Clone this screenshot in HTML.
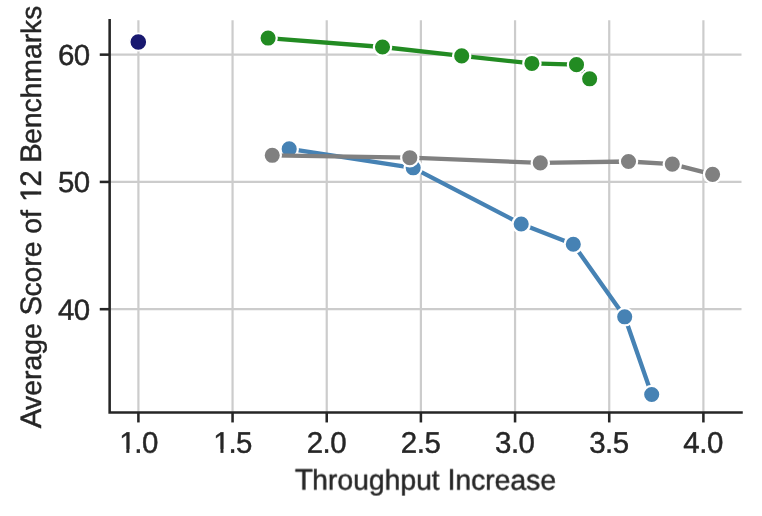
<!DOCTYPE html>
<html><head><meta charset="utf-8"><title>Chart</title>
<style>
html,body{margin:0;padding:0;background:#fff;}
body{width:762px;height:516px;overflow:hidden;}
svg{display:block;}
text{font-family:"Liberation Sans",sans-serif;text-rendering:geometricPrecision;fill:#262626;stroke:#262626;stroke-width:0.45px;stroke-linejoin:round;}
</style></head>
<body>
<svg width="762" height="516" viewBox="0 0 762 516">
<rect x="0" y="0" width="762" height="516" fill="#ffffff"/>
<g stroke="#cccccc" stroke-width="2.2" fill="none">
<line x1="138.40" y1="20.2" x2="138.40" y2="412.55"/>
<line x1="232.56" y1="20.2" x2="232.56" y2="412.55"/>
<line x1="326.73" y1="20.2" x2="326.73" y2="412.55"/>
<line x1="420.89" y1="20.2" x2="420.89" y2="412.55"/>
<line x1="515.06" y1="20.2" x2="515.06" y2="412.55"/>
<line x1="609.23" y1="20.2" x2="609.23" y2="412.55"/>
<line x1="703.39" y1="20.2" x2="703.39" y2="412.55"/>
<line x1="109.65" y1="309.20" x2="741.5" y2="309.20"/>
<line x1="109.65" y1="181.92" x2="741.5" y2="181.92"/>
<line x1="109.65" y1="54.65" x2="741.5" y2="54.65"/>
</g>
<g>
<polyline fill="none" stroke="#4682b4" stroke-width="4.3" stroke-linejoin="round" stroke-linecap="round" points="289.20,148.90 413.20,167.80 521.20,224.00 573.30,244.25 624.70,316.80 651.70,394.50"/>
<circle cx="289.20" cy="148.90" r="8.65" fill="#4682b4" stroke="#ffffff" stroke-width="2.2"/>
<circle cx="413.20" cy="167.80" r="8.65" fill="#4682b4" stroke="#ffffff" stroke-width="2.2"/>
<circle cx="521.20" cy="224.00" r="8.65" fill="#4682b4" stroke="#ffffff" stroke-width="2.2"/>
<circle cx="573.30" cy="244.25" r="8.65" fill="#4682b4" stroke="#ffffff" stroke-width="2.2"/>
<circle cx="624.70" cy="316.80" r="8.65" fill="#4682b4" stroke="#ffffff" stroke-width="2.2"/>
<circle cx="651.70" cy="394.50" r="8.65" fill="#4682b4" stroke="#ffffff" stroke-width="2.2"/>
</g>
<g>
<polyline fill="none" stroke="#808080" stroke-width="4.3" stroke-linejoin="round" stroke-linecap="round" points="272.25,155.30 409.80,157.70 540.30,162.90 628.50,161.50 672.30,164.10 712.60,174.35"/>
<circle cx="272.25" cy="155.30" r="8.65" fill="#808080" stroke="#ffffff" stroke-width="2.2"/>
<circle cx="409.80" cy="157.70" r="8.65" fill="#808080" stroke="#ffffff" stroke-width="2.2"/>
<circle cx="540.30" cy="162.90" r="8.65" fill="#808080" stroke="#ffffff" stroke-width="2.2"/>
<circle cx="628.50" cy="161.50" r="8.65" fill="#808080" stroke="#ffffff" stroke-width="2.2"/>
<circle cx="672.30" cy="164.10" r="8.65" fill="#808080" stroke="#ffffff" stroke-width="2.2"/>
<circle cx="712.60" cy="174.35" r="8.65" fill="#808080" stroke="#ffffff" stroke-width="2.2"/>
</g>
<g>
<polyline fill="none" stroke="#228b22" stroke-width="4.3" stroke-linejoin="round" stroke-linecap="round" points="268.10,38.05 382.50,47.00 461.70,55.90 531.90,63.45 576.50,64.65 589.65,78.80"/>
<circle cx="268.10" cy="38.05" r="8.65" fill="#228b22" stroke="#ffffff" stroke-width="2.2"/>
<circle cx="382.50" cy="47.00" r="8.65" fill="#228b22" stroke="#ffffff" stroke-width="2.2"/>
<circle cx="461.70" cy="55.90" r="8.65" fill="#228b22" stroke="#ffffff" stroke-width="2.2"/>
<circle cx="531.90" cy="63.45" r="8.65" fill="#228b22" stroke="#ffffff" stroke-width="2.2"/>
<circle cx="576.50" cy="64.65" r="8.65" fill="#228b22" stroke="#ffffff" stroke-width="2.2"/>
<circle cx="589.65" cy="78.80" r="8.65" fill="#228b22" stroke="#ffffff" stroke-width="2.2"/>
</g>
<g>
<circle cx="138.30" cy="41.95" r="8.65" fill="#191970" stroke="#ffffff" stroke-width="1.7"/>
</g>
<g stroke="#262626" stroke-width="2.55" fill="none" stroke-linecap="square">
<polyline stroke-linejoin="miter" points="109.65,20.2 109.65,412.55 741.5,412.55"/>
</g>
<g stroke="#262626" stroke-width="2.55" fill="none">
<line x1="138.40" y1="412.55" x2="138.40" y2="422.45"/>
<line x1="232.56" y1="412.55" x2="232.56" y2="422.45"/>
<line x1="326.73" y1="412.55" x2="326.73" y2="422.45"/>
<line x1="420.89" y1="412.55" x2="420.89" y2="422.45"/>
<line x1="515.06" y1="412.55" x2="515.06" y2="422.45"/>
<line x1="609.23" y1="412.55" x2="609.23" y2="422.45"/>
<line x1="703.39" y1="412.55" x2="703.39" y2="422.45"/>
<line x1="99.75" y1="309.20" x2="109.65" y2="309.20"/>
<line x1="99.75" y1="181.92" x2="109.65" y2="181.92"/>
<line x1="99.75" y1="54.65" x2="109.65" y2="54.65"/>
</g>
<g font-size="28.3px" opacity="0.999">
<text transform="translate(138.40,452.75) rotate(0.03) scale(1.04,1.05)" x="-18.543 -4.027 3.381">1.0</text>
<rect x="120.36" y="449.3" width="5.96" height="4.8" fill="#ffffff"/>
<rect x="129.32" y="449.3" width="5.93" height="4.8" fill="#ffffff"/>
<text transform="translate(232.56,452.75) rotate(0.03) scale(1.04,1.05)" x="-18.543 -4.027 3.381">1.5</text>
<rect x="214.52" y="449.3" width="5.96" height="4.8" fill="#ffffff"/>
<rect x="223.48" y="449.3" width="5.93" height="4.8" fill="#ffffff"/>
<text transform="translate(326.73,452.75) rotate(0.03) scale(1.04,1.05)" x="-19.313 -4.027 3.381">2.0</text>
<text transform="translate(420.89,452.75) rotate(0.03) scale(1.04,1.05)" x="-19.313 -4.027 3.381">2.5</text>
<text transform="translate(515.06,452.75) rotate(0.03) scale(1.04,1.05)" x="-19.313 -4.027 3.381">3.0</text>
<text transform="translate(609.23,452.75) rotate(0.03) scale(1.04,1.05)" x="-19.313 -4.027 3.381">3.5</text>
<text transform="translate(703.39,452.75) rotate(0.03) scale(1.04,1.05)" x="-19.313 -4.027 3.381">4.0</text>
<text transform="translate(89.6,319.85) rotate(0.03) scale(1.04,1.03)" text-anchor="end" letter-spacing="-0.6">40</text>
<text transform="translate(89.6,191.95) rotate(0.03) scale(1.04,1.03)" text-anchor="end" letter-spacing="-0.6">50</text>
<text transform="translate(89.6,64.95) rotate(0.03) scale(1.04,1.03)" text-anchor="end" letter-spacing="-0.6">60</text>
<g transform="translate(294.87,489.6) rotate(0.03)"><text><tspan font-size="29.57px" dx="0.000">T</tspan><tspan dx="-0.778">hroughput </tspan><tspan font-size="29.57px" dx="0.000">I</tspan><tspan dx="-0.354">ncrease</tspan></text></g>
<g transform="translate(41.3,428.22) rotate(-90)"><text><tspan font-size="29.57px" dx="0.000">A</tspan><tspan dx="-1.361">verage </tspan><tspan font-size="29.57px" dx="0.000">S</tspan><tspan dx="-0.849">core of </tspan><tspan font-size="29.57px" dx="0.446">1</tspan><tspan font-size="29.57px" dx="-1.508">2</tspan><tspan dx="-0.354"> </tspan><tspan font-size="29.57px" dx="0.000">B</tspan><tspan dx="-0.849">enchmarks</tspan></text><rect x="227.71" y="-3.51" width="5.88" height="4.51" fill="#ffffff"/><rect x="236.81" y="-3.51" width="5.95" height="4.51" fill="#ffffff"/></g>
</g>
</svg>
</body></html>
